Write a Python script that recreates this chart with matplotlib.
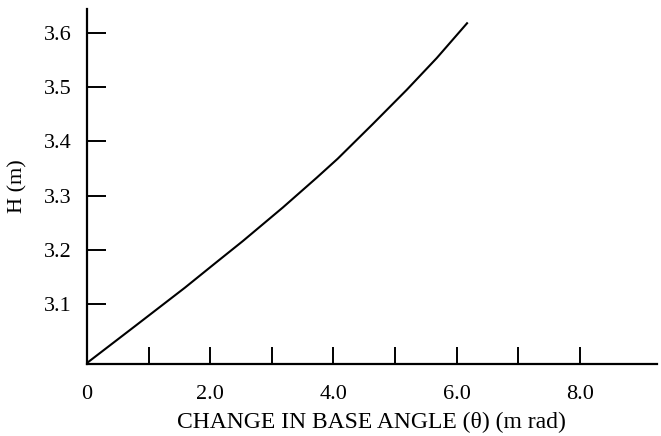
import matplotlib
matplotlib.use("Agg")
import matplotlib.pyplot as plt

# curve: base angle change (m rad) vs H (m)
theta = [0.0, 0.78, 1.59, 2.08, 2.53, 3.18, 3.73, 4.07, 4.64, 5.19, 5.68, 6.17]
height = [2.991, 3.059, 3.130, 3.175, 3.216, 3.278, 3.333, 3.368, 3.432, 3.495, 3.554, 3.618]

x_ticks = [0, 1, 2, 3, 4, 5, 6, 7, 8]
x_labels = ["0", "", "2.0", "", "4.0", "", "6.0", "", "8.0"]
y_ticks = [3.1, 3.2, 3.3, 3.4, 3.5, 3.6]
y_labels = ["3.1", "3.2", "3.3", "3.4", "3.5", "3.6"]

plt.rcParams['font.family'] = ['Liberation Serif', 'DejaVu Serif']

fig = plt.figure(figsize=(6.61, 4.36), dpi=100)
ax = fig.add_axes([0.1316, 0.165, 0.862, 0.814])

ax.plot(theta, height, color='black', linewidth=1.5)

ax.set_xlim(0, 9.25)
ax.set_ylim(2.989, 3.644)

ax.spines['top'].set_visible(False)
ax.spines['right'].set_visible(False)
ax.spines['left'].set_linewidth(1.6)
ax.spines['bottom'].set_linewidth(1.6)

ax.set_xticks(x_ticks)
ax.set_xticklabels(x_labels)
ax.set_yticks(y_ticks)
ax.set_yticklabels(y_labels)
ax.tick_params(axis='x', direction='in', length=12, width=1.4, pad=15, labelsize=16)
ax.tick_params(axis='y', direction='in', length=14, width=1.4, pad=11, labelsize=16)
# no tick mark at the origin, only its "0"
ax.xaxis.get_major_ticks()[0].tick1line.set_visible(False)

ax.set_xlabel("CHANGE IN BASE ANGLE (\u03b8) (m rad)", fontsize=17, labelpad=6)
ax.set_ylabel("H (m)", fontsize=16, labelpad=12)

fig.savefig("out.png", dpi=100)
